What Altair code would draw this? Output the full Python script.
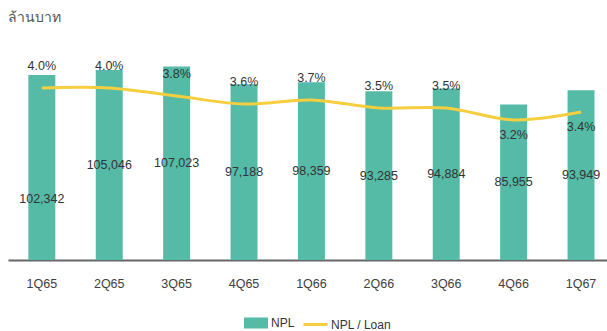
import altair as alt
import pandas as pd

# Quarterly non-performing loans (million baht) and NPL / loan ratio (%)
quarters = ["1Q65", "2Q65", "3Q65", "4Q65", "1Q66", "2Q66", "3Q66", "4Q66", "1Q67"]
npl = [102342, 105046, 107023, 97188, 98359, 93285, 94884, 85955, 93949]
npl_ratio = [4.0, 4.0, 3.8, 3.6, 3.7, 3.5, 3.5, 3.2, 3.4]

df = pd.DataFrame({"quarter": quarters, "npl": npl, "ratio": npl_ratio})
df["npl_label"] = [f"{v:,}" for v in npl]
df["ratio_label"] = [f"{v:.1f}%" for v in npl_ratio]

FONT = "Liberation Sans, Arial, Noto Sans, DejaVu Sans, sans-serif"
BAR = "#55bba7"
LINE = "#f5cf3f"
TEXT = "#333333"

# ratio labels that sit under the line instead of above it
below_line = ["4Q66", "1Q67"]

x = alt.X(
    "quarter:N",
    sort=quarters,
    title=None,
    scale=alt.Scale(paddingInner=0.6, paddingOuter=0.2436, align=0.62),
    axis=alt.Axis(
        labelAngle=0, ticks=False, domainColor="#666666", domainWidth=2,
        labelColor="#404040", labelFontSize=12.5, labelPadding=17, labelFont=FONT,
        grid=False,
    ),
)

y_npl = alt.Scale(domain=[0, 124450], nice=False, zero=False)
y_ratio = alt.Scale(domain=[-0.3, 5.325], nice=False, zero=False)

base = alt.Chart(df).encode(x=x)

bars = base.transform_calculate(series="'NPL'").mark_bar().encode(
    y=alt.Y("npl:Q", scale=y_npl, axis=None),
    fill=alt.Fill(
        "series:N",
        scale=alt.Scale(domain=["NPL"], range=[BAR]),
        legend=alt.Legend(
            title=None, orient="none", direction="horizontal",
            legendX=236, legendY=276,
            symbolType="M-1,-0.46L1,-0.46L1,0.46L-1,0.46Z", symbolSize=576,
            symbolStrokeWidth=0, labelFontSize=12, labelColor=TEXT,
            labelFont=FONT, labelOffset=3,
        ),
    ),
)

npl_text = base.transform_calculate(mid="datum.npl / 2")

npl_labels = npl_text.transform_filter(
    alt.datum.quarter != quarters[0]
).mark_text(fontSize=12.5, font=FONT, color=TEXT, baseline="middle").encode(
    y=alt.Y("mid:Q", scale=y_npl, axis=None),
    text="npl_label:N",
)

npl_label_first = npl_text.transform_filter(
    alt.datum.quarter == quarters[0]
).mark_text(fontSize=12.5, font=FONT, color=TEXT, baseline="middle", dy=32).encode(
    y=alt.Y("mid:Q", scale=y_npl, axis=None),
    text="npl_label:N",
)

line = base.transform_calculate(series="'NPL / Loan'").mark_line(
    strokeWidth=3, interpolate="cardinal"
).encode(
    y=alt.Y("ratio:Q", scale=y_ratio, axis=None),
    stroke=alt.Stroke(
        "series:N",
        scale=alt.Scale(domain=["NPL / Loan"], range=[LINE]),
        legend=alt.Legend(
            title=None, orient="none", direction="horizontal",
            legendX=294, legendY=276,
            symbolType="stroke", symbolSize=576, symbolStrokeWidth=3,
            labelFontSize=12, labelColor=TEXT, labelFont=FONT,
            labelOffset=2,
        ),
    ),
)

ratio_above = base.transform_filter(
    ~alt.FieldOneOfPredicate(field="quarter", oneOf=below_line)
).mark_text(fontSize=12.5, font=FONT, color=TEXT, baseline="middle", dy=-22).encode(
    y=alt.Y("ratio:Q", scale=y_ratio, axis=None),
    text="ratio_label:N",
)

ratio_below = base.transform_filter(
    alt.FieldOneOfPredicate(field="quarter", oneOf=below_line)
).mark_text(fontSize=12.5, font=FONT, color=TEXT, baseline="middle", dy=15).encode(
    y=alt.Y("ratio:Q", scale=y_ratio, axis=None),
    text="ratio_label:N",
)

chart = alt.layer(
    bars, npl_labels, npl_label_first, line, ratio_above, ratio_below
).resolve_scale(
    y="independent"
).properties(
    width=599,
    height=225,
    autosize=alt.AutoSizeParams(type="none"),
    padding={"left": 8, "top": 35, "right": 0, "bottom": 71},
    title=alt.TitleParams(
        "ล้านบาท", anchor="start", fontSize=14, fontWeight="normal",
        color="#555555", offset=10, font=FONT,
    ),
    background="white",
).configure_view(stroke=None)

chart.save("out.html", embed_options={"renderer": "svg", "actions": False})
